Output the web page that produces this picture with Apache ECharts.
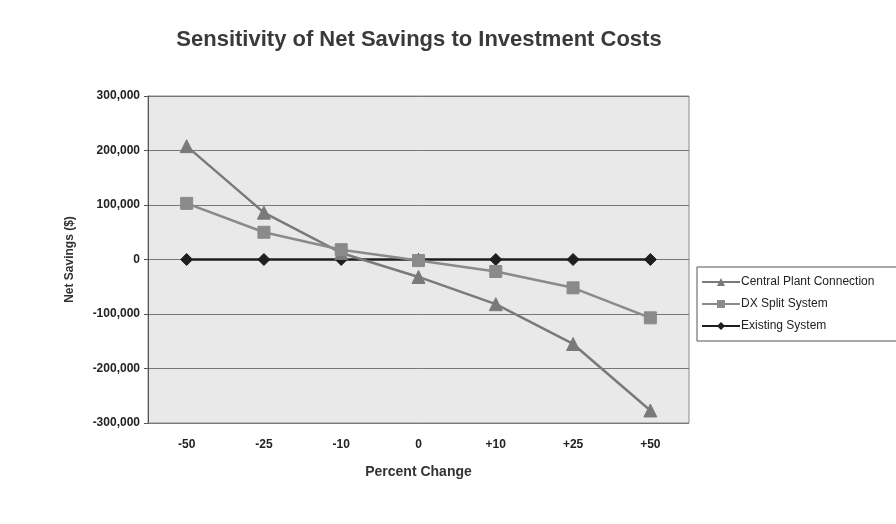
<!DOCTYPE html>
<html>
<head>
<meta charset="utf-8">
<script src="https://cdn.jsdelivr.net/npm/echarts@6/dist/echarts.min.js"></script>
<style>
html,body{margin:0;padding:0;background:#fff;}
#chart{width:896px;height:524px;}
</style>
</head>
<body>
<div id="chart"></div>
<script>
// Percent change in investment cost
const categories = ['-50', '-25', '-10', '0', '+10', '+25', '+50'];
// Net savings ($) for each alternative
const centralPlant = [208000, 86000, 12000, -32000, -82000, -155000, -277000];
const dxSplit = [103000, 50000, 18000, -2000, -22000, -52000, -107000];
const existing = [0, 0, 0, 0, 0, 0, 0];
const yTicks = [-300000, 300000, 100000]; // min, max, step

const font = '"Liberation Sans", Arial, sans-serif';
const chart = echarts.init(document.getElementById('chart'));

function lineSeries(name, data, symbol, size, color, z) {
  return {
    name, type: 'line', data, symbol, symbolSize: size,
    lineStyle: { color, width: 2.5 },
    itemStyle: { color, borderColor: color },
    z
  };
}

chart.setOption({
  backgroundColor: '#ffffff',
  animation: false,
  title: {
    text: 'Sensitivity of Net Savings to Investment Costs',
    left: 414, top: 24, textAlign: 'center',
    textStyle: { fontFamily: font, fontSize: 22, fontWeight: 'bold', color: '#3a3a3a' }
  },
  grid: {
    left: 148, top: 96, width: 541, height: 327,
    show: true, backgroundColor: '#e9e9e9', borderColor: '#8a8a8a', borderWidth: 1
  },
  legend: {
    orient: 'vertical', left: 697, top: 267,
    itemWidth: 38, itemHeight: 10, itemGap: 10,
    padding: [9, 40, 9, 4],
    borderColor: '#555', borderWidth: 1, backgroundColor: '#fff',
    textStyle: { fontFamily: font, fontSize: 12, color: '#222', padding: [0, 0, 0, -4] },
    data: ['Central Plant Connection', 'DX Split System', 'Existing System']
  },
  xAxis: {
    type: 'category', data: categories, boundaryGap: true,
    name: 'Percent Change', nameLocation: 'middle', nameGap: 42,
    nameTextStyle: { fontFamily: font, fontSize: 14, fontWeight: 'bold', color: '#333' },
    axisLine: { show: false },
    axisTick: { show: false },
    axisLabel: { fontFamily: font, fontSize: 12, fontWeight: 'bold', color: '#222', margin: 16 }
  },
  yAxis: {
    type: 'value', min: yTicks[0], max: yTicks[1], interval: yTicks[2],
    name: 'Net Savings ($)', nameLocation: 'middle', nameGap: 72, nameRotate: 90,
    nameTextStyle: { fontFamily: font, fontSize: 12, fontWeight: 'bold', color: '#333' },
    axisLine: { show: true, lineStyle: { color: '#555' } },
    axisTick: { show: true, length: 4, lineStyle: { color: '#555' } },
    splitLine: { lineStyle: { color: '#777', width: 1 } },
    axisLabel: {
      fontFamily: font, fontSize: 12, fontWeight: 'bold', color: '#222', margin: 8,
      formatter: v => v.toLocaleString('en-US')
    }
  },
  series: [
    lineSeries('Central Plant Connection', centralPlant, 'triangle', 13, '#7a7a7a', 3),
    lineSeries('DX Split System', dxSplit, 'rect', 12, '#8a8a8a', 4),
    lineSeries('Existing System', existing, 'diamond', 12, '#1e1e1e', 2)
  ]
});
</script>
</body>
</html>
